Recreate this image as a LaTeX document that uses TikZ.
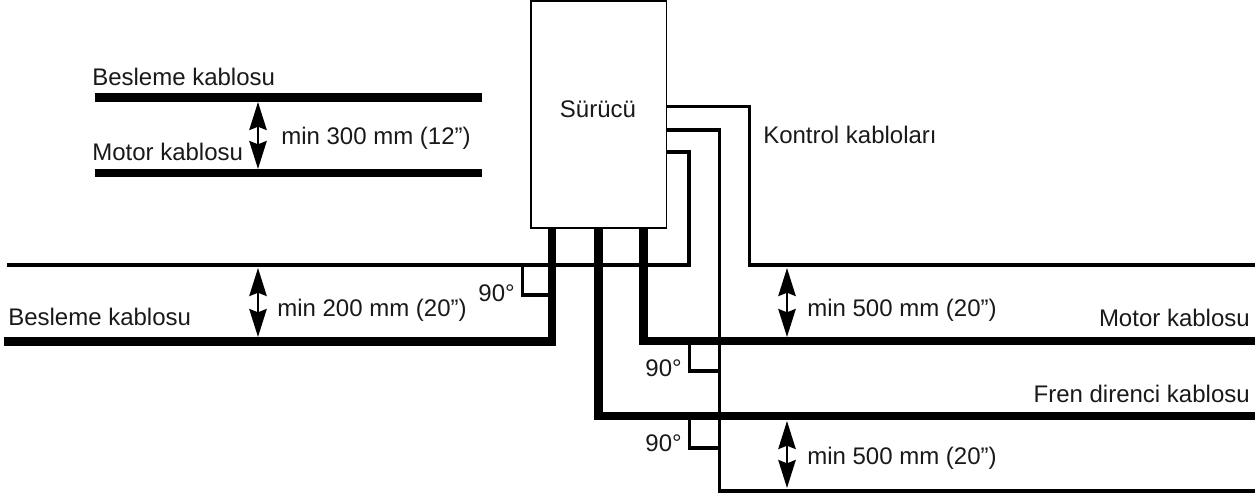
\documentclass[tikz,border=0pt]{standalone}
\usepackage{fontspec}
\setmainfont{Liberation Sans}
\usetikzlibrary{positioning,arrows.meta}

\begin{document}
\begin{tikzpicture}[
  x=0.75pt, y=-0.75pt,
  drive/.style={rectangle, draw, line width=1.2pt, fill=white, inner sep=0pt},
  label/.style={inner sep=0pt, font=\fontsize{18}{20}\selectfont, text=black!90},
  power/.style={line width=6.4pt, miter limit=10},
  signal/.style={line width=2.3pt},
  gap/.style={{Stealth[length=21pt,width=13pt,inset=2.5pt]}-{Stealth[length=21pt,width=13pt,inset=2.5pt]}, line width=2pt}
]
\useasboundingbox (0,0) rectangle (1260,497);

% Drive
\node[drive, minimum width=101.6pt, minimum height=170.2pt, anchor=north west] (drive) at (530.2,0) {};
\node[label] (drivetext) at (598,109) {Sürücü};

% Cable ends
\coordinate (feedtopl) at (95,97.5);
\coordinate (feedtopr) at (482,97.5);
\coordinate (motortopl) at (95,173);
\coordinate (motortopr) at (482,173);
\coordinate (feedout) at (552,227);
\coordinate (brakeout) at (598.5,227);
\coordinate (motorout) at (643.5,227);
\coordinate (feedend) at (4,341.5);
\coordinate (motorend) at (1255,341);
\coordinate (brakeend) at (1255,416);
\coordinate (ctrlaout) at (666,106.5);
\coordinate (ctrlbout) at (666,130);
\coordinate (ctrlcout) at (666,152);
\coordinate (ctrlabend) at (749.5,106.5);
\coordinate (ctrlbbend) at (719.3,130);
\coordinate (ctrlcbend) at (689,152);
\coordinate (ctrlaend) at (1255,265);
\coordinate (ctrlbend) at (1255,491);
\coordinate (ctrlcend) at (7,265);

% Control cables
\draw[signal] (ctrlaout) -- (ctrlabend) |- (ctrlaend);
\draw[signal] (ctrlbout) -- (ctrlbbend) |- (ctrlbend);
\draw[signal] (ctrlcout) -- (ctrlcbend) |- (ctrlcend);

% Right angle marks
\coordinate (markal) at (522.7,265);
\coordinate (markar) at (552,295);
\coordinate (markbl) at (689.5,341);
\coordinate (markbr) at (719.3,371);
\coordinate (markcl) at (689.5,416);
\coordinate (markcr) at (719.3,448);
\draw[signal] (markal) |- (markar);
\draw[signal] (markbl) |- (markbr);
\draw[signal] (markcl) |- (markcr);

% Power cables
\draw[power] (feedtopl) -- (feedtopr);
\draw[power] (motortopl) -- (motortopr);
\draw[power] (feedout) |- (feedend);
\draw[power] (brakeout) |- (brakeend);
\draw[power] (motorout) |- (motorend);

% Distances
\coordinate (gapat) at (258,102);
\coordinate (gapab) at (258,169);
\coordinate (gapbt) at (258,268);
\coordinate (gapbb) at (258,337);
\coordinate (gapct) at (787,268);
\coordinate (gapcb) at (787,337);
\coordinate (gapdt) at (787,421);
\coordinate (gapdb) at (787,488);
\draw[gap] (gapat) -- (gapab);
\draw[gap] (gapbt) -- (gapbb);
\draw[gap] (gapct) -- (gapcb);
\draw[gap] (gapdt) -- (gapdb);

% Labels
\node[label, anchor=west] (feedtoptext) at (92,77) {Besleme kablosu};
\node[label, anchor=west] (motortoptext) at (92,152) {Motor kablosu};
\node[label, anchor=west] (gapatext) at (281,138) {min 300 mm (12”)};
\node[label, anchor=west] (ctrltext) at (763,135) {Kontrol kabloları};
\node[label, anchor=west] (feedtext) at (8,317) {Besleme kablosu};
\node[label, anchor=west] (gapbtext) at (277,310) {min 200 mm (20”)};
\node[label, anchor=west] (gapctext) at (807,310) {min 500 mm (20”)};
\node[label, anchor=west] (gapdtext) at (807,458) {min 500 mm (20”)};
\node[label, anchor=east] (motortext) at (1250,318) {Motor kablosu};
\node[label, anchor=east] (braketext) at (1250,394) {Fren direnci kablosu};
\node[label, anchor=east] (marka) at (515,293) {90°};
\node[label, anchor=east] (markb) at (682,368) {90°};
\node[label, anchor=east] (markc) at (682,443) {90°};

\end{tikzpicture}
\end{document}
